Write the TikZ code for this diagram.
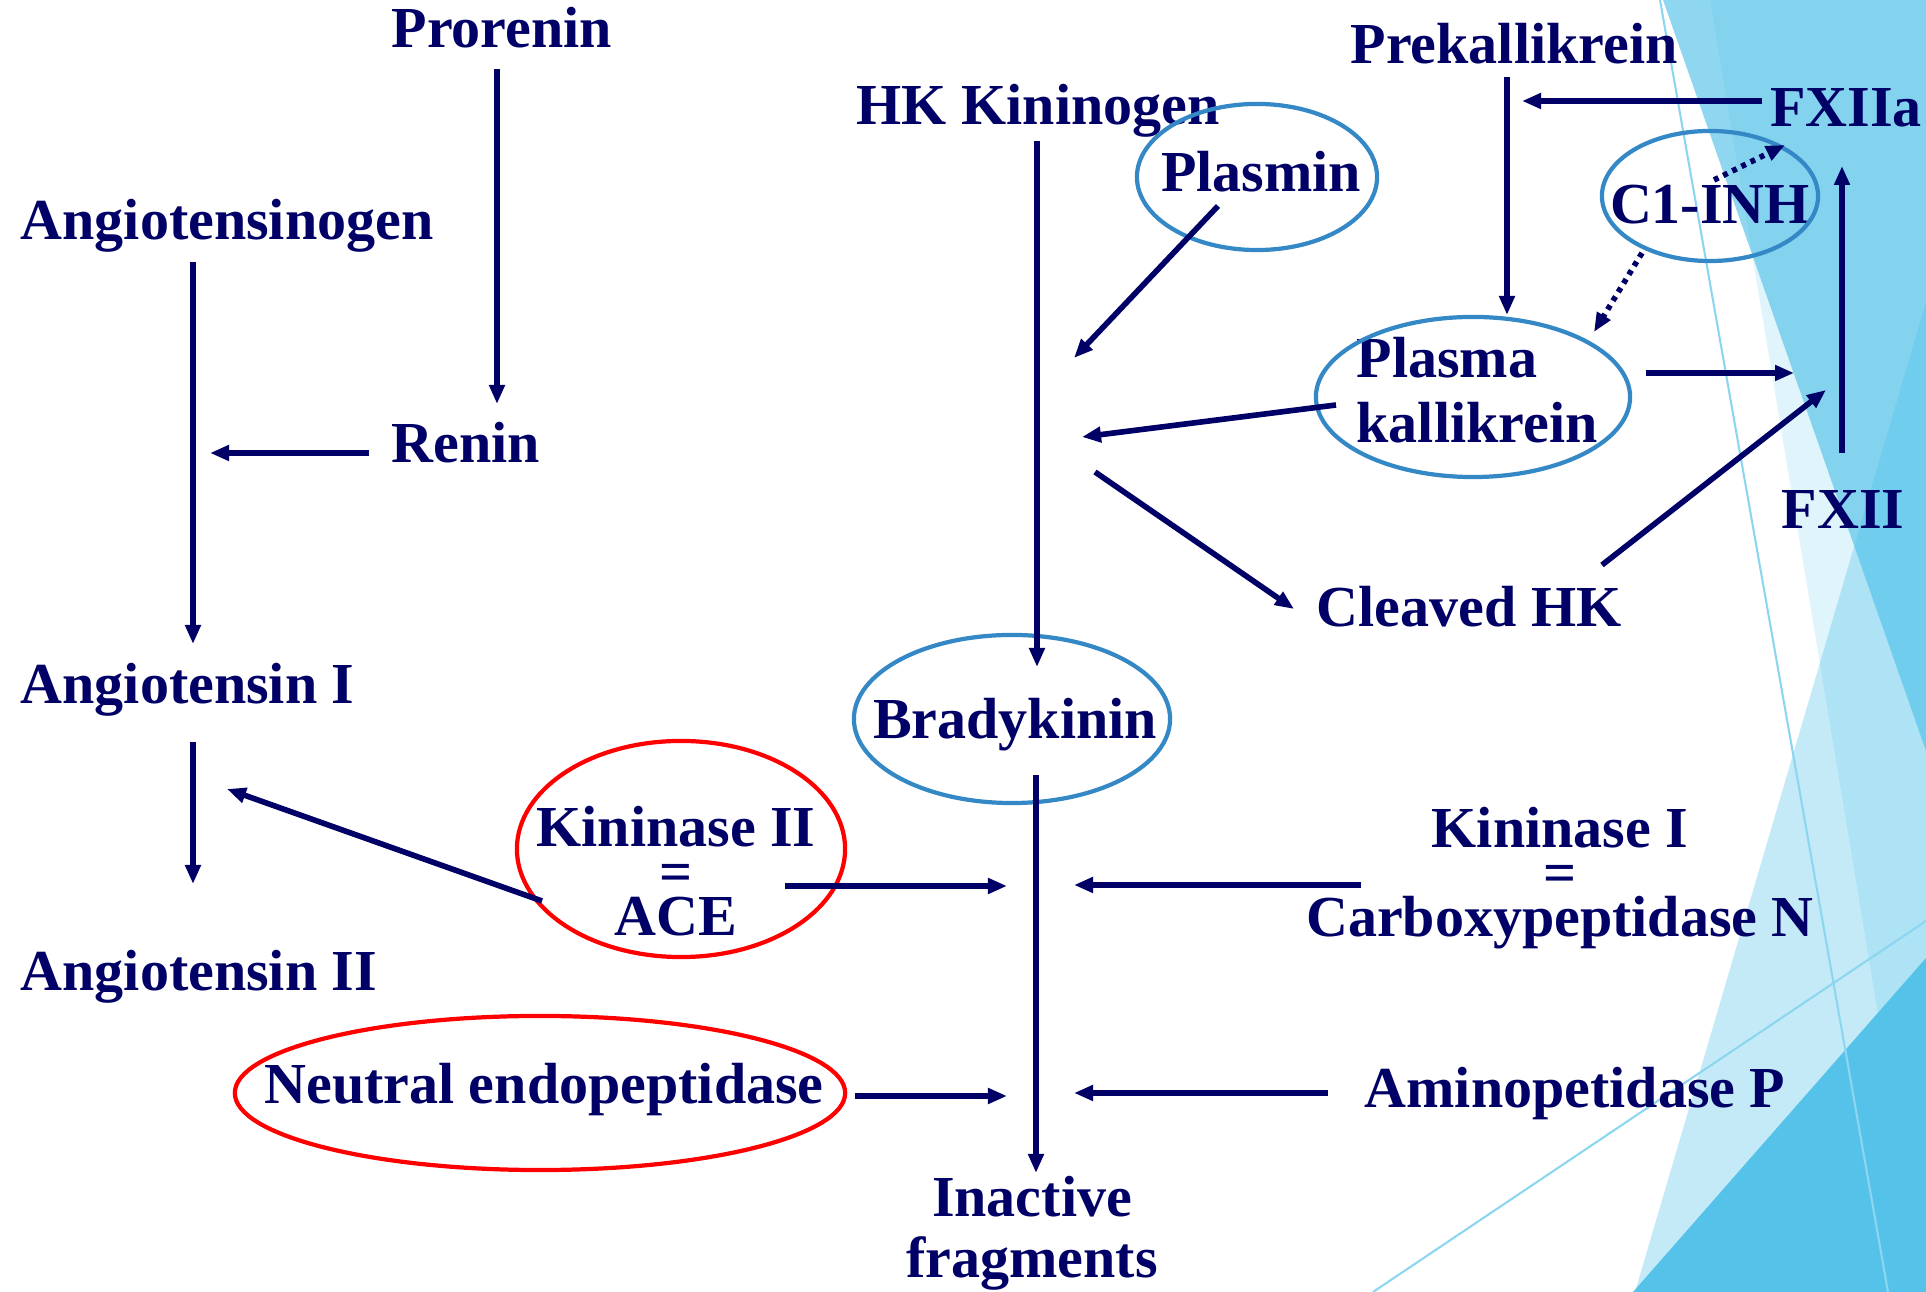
\documentclass[tikz,border=0pt]{standalone}
\usepackage{fontspec}
\setmainfont{Liberation Serif}
\usetikzlibrary{arrows.meta,shapes.geometric}
\definecolor{navy}{RGB}{0,0,102}
\definecolor{ovalblue}{RGB}{52,136,198}
\definecolor{facet}{RGB}{78,192,232}
\definecolor{facetline}{RGB}{140,214,240}

\begin{document}
\begin{tikzpicture}[x=0.01cm,y=-0.01cm,
    >={Triangle[length=0.19cm,width=0.15cm]},
    every edge/.style={draw=navy,line width=1.6pt},
    lbl/.style={inner sep=0pt,text=navy,font=\fontsize{16.5}{18.5}\selectfont\bfseries},
    dots/.style={every edge/.append style={dash pattern=on 1.4pt off 1.5pt}},
    oval/.style={ellipse,draw=#1,line width=1.2pt,inner sep=0pt}]
  \useasboundingbox (0,0) rectangle (1926,1292);

  % facet background
  \fill[facet,fill opacity=0.63] (1663,0) -- (1926,0) -- (1926,751) -- cycle;
  \fill[facet,fill opacity=0.18] (1710,0) -- (1926,0) -- (1926,1292) -- (1924,1292) -- cycle;
  \fill[facet,fill opacity=0.335] (1635,1292) -- (1926,302) -- (1926,1292) -- cycle;
  \fill[facet,fill opacity=0.94] (1633,1292) -- (1926,958) -- (1926,1292) -- cycle;
  \draw[facetline,line width=0.6pt] (1660,0) -- (1888,1292);
  \draw[facetline,line width=0.6pt] (1373,1292) -- (1926,921);

  % renin side
  \node[lbl,anchor=base west] (prorenin) at (391,48) {Prorenin};
  \node[lbl,anchor=base west] (angtgen) at (20,240) {Angiotensinogen};
  \node[lbl,anchor=base west] (renin) at (391,463) {Renin};
  \node[lbl,anchor=base west] (angI) at (20,704) {Angiotensin I};
  \node[lbl,anchor=base west] (angII) at (20,991) {Angiotensin II};

  % kinin side
  \node[lbl,anchor=base west] (hkk) at (856,125) {HK Kininogen};
  \node[lbl,anchor=base] (plasmin) at (1261,192) {Plasmin};
  \node[lbl,anchor=base west] (prekal) at (1350,64) {Prekallikrein};
  \node[lbl,anchor=base] (fxiia) at (1846,127) {FXIIa};
  \node[lbl,anchor=base] (cinh) at (1710,224) {C1-INH};
  \node[lbl,anchor=base west,align=left] (pk) at (1356,443) {Plasma\\kallikrein};
  \node[lbl,anchor=base] (fxii) at (1843,529) {FXII};
  \node[lbl,anchor=base west] (cleaved) at (1316,627) {Cleaved HK};
  \node[lbl,anchor=base] (brady) at (1015,739) {Bradykinin};

  % breakdown
  \node[lbl,anchor=base,align=center,font=\fontsize{16.5}{12.7}\selectfont\bfseries]
    (kin2) at (676,936) {Kininase II\\=\\ACE};
  \node[lbl,anchor=base,align=center,font=\fontsize{16.5}{12.7}\selectfont\bfseries]
    (kin1) at (1560,937) {Kininase I\\=\\Carboxypeptidase N};
  \node[lbl,anchor=base] (nep) at (544,1104) {Neutral endopeptidase};
  \node[lbl,anchor=base west] (amino) at (1364,1108) {Aminopetidase P};
  \node[lbl,anchor=base,align=center,font=\fontsize{16.5}{17.6}\selectfont\bfseries]
    (inactive) at (1032,1278) {Inactive\\fragments};

  % rings
  \node[oval=ovalblue,minimum width=2.40cm,minimum height=1.46cm] (plasmin-ring) at (1257,177) {};
  \node[oval=ovalblue,minimum width=2.16cm,minimum height=1.30cm] (cinh-ring) at (1710,196) {};
  \node[oval=ovalblue,minimum width=3.14cm,minimum height=1.60cm] (pk-ring) at (1473,397) {};
  \node[oval=ovalblue,minimum width=3.16cm,minimum height=1.68cm] (brady-ring) at (1012,719) {};
  \node[oval=red,minimum width=3.28cm,minimum height=2.16cm] (kin2-ring) at (681,849) {};
  \node[oval=red,minimum width=6.10cm,minimum height=1.54cm] (nep-ring) at (540,1093) {};

  % arrow ends
  \coordinate (pro-out) at (497,69);   \coordinate (ren-in) at (497,404);
  \coordinate (ren-out) at (369,453);  \coordinate (ang-hit) at (210,453);
  \coordinate (tgen-out) at (193,262); \coordinate (angI-in) at (193,644);
  \coordinate (angI-out) at (193,742); \coordinate (angII-in) at (193,884);
  \coordinate (ace-out) at (542,901);  \coordinate (ace-hit) at (227,789);
  \coordinate (ace-r) at (785,886);    \coordinate (bk-l1) at (1007,886);
  \coordinate (hk-out) at (1037,141);  \coordinate (brady-in) at (1037,667);
  \coordinate (pl-out) at (1218,206);  \coordinate (pl-hit) at (1074,358);
  \coordinate (pk-out) at (1336,405);  \coordinate (pk-hit) at (1082,437);
  \coordinate (cl-from) at (1095,472); \coordinate (cl-in) at (1294,609);
  \coordinate (pre-out) at (1507,77);  \coordinate (pk-in) at (1507,315);
  \coordinate (fa-out) at (1762,101);  \coordinate (pre-hit) at (1522,101);
  \coordinate (ci-a) at (1714,180);    \coordinate (fa-hit) at (1785,145);
  \coordinate (ci-b) at (1642,253);    \coordinate (pk-hit2) at (1594,332);
  \coordinate (pk-r) at (1646,373);    \coordinate (fx-hit) at (1794,373);
  \coordinate (cl-out) at (1602,565);  \coordinate (fx-hit2) at (1826,390);
  \coordinate (fx-out) at (1842,453);  \coordinate (fa-in) at (1842,166);
  \coordinate (bk-out) at (1036,775);  \coordinate (frag-in) at (1036,1173);
  \coordinate (k1-out) at (1361,885);  \coordinate (bk-r1) at (1074,885);
  \coordinate (nep-out) at (855,1096); \coordinate (bk-l2) at (1007,1096);
  \coordinate (am-out) at (1328,1093); \coordinate (bk-r2) at (1074,1093);

  \path[->] (pro-out) edge (ren-in)
            (ren-out) edge (ang-hit)
            (tgen-out) edge (angI-in)
            (angI-out) edge (angII-in)
            (ace-out) edge (ace-hit)
            (ace-r) edge (bk-l1);
  \path[->] (hk-out) edge (brady-in)
            (pl-out) edge (pl-hit)
            (pk-out) edge (pk-hit)
            (cl-from) edge (cl-in)
            (pre-out) edge (pk-in)
            (fa-out) edge (pre-hit)
            (pk-r) edge (fx-hit)
            (cl-out) edge (fx-hit2)
            (fx-out) edge (fa-in);
  \path[->,dots] (ci-a) edge (fa-hit)
                 (ci-b) edge (pk-hit2);
  \path[->] (bk-out) edge (frag-in)
            (k1-out) edge (bk-r1)
            (nep-out) edge (bk-l2)
            (am-out) edge (bk-r2);
\end{tikzpicture}
\end{document}
